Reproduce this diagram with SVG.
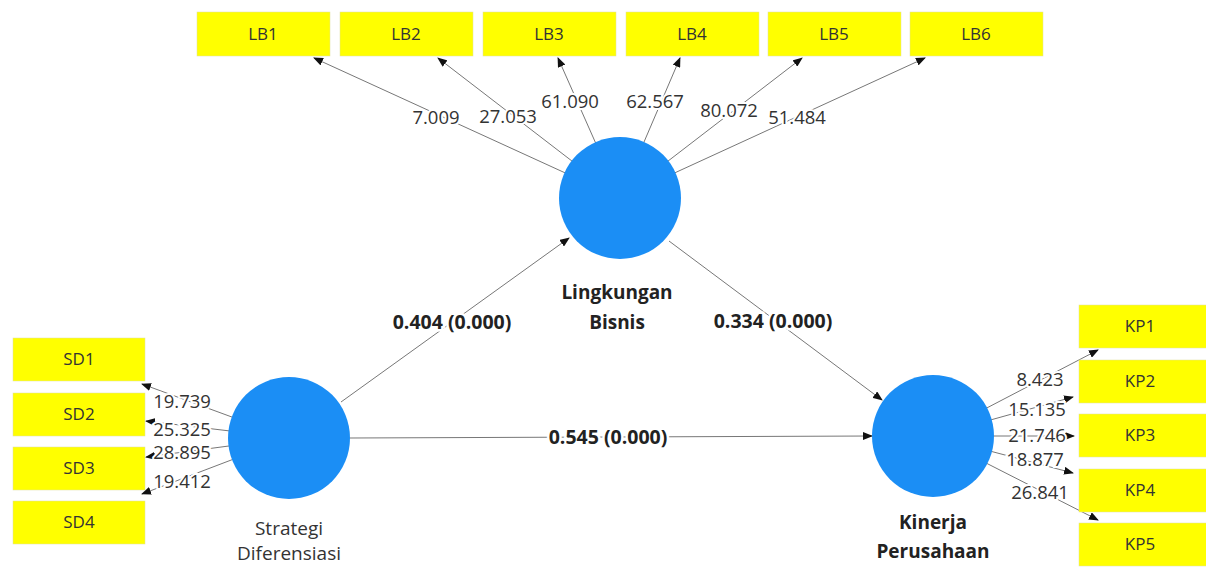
<svg xmlns="http://www.w3.org/2000/svg" width="1206" height="567" viewBox="0 0 1206 567">
<style>
.box{fill:#ffff00;stroke:#e0e0a0;stroke-width:0.5}
.bt{font-family:"Open Sans","Noto Sans",sans-serif;font-size:17px;fill:#333;text-anchor:middle}
.lv{fill:#1b8ef5}
.ln{stroke:#777;stroke-width:1;fill:none;marker-end:url(#ah)}
.num{font-family:"Open Sans","Noto Sans",sans-serif;font-size:18.5px;fill:#333;text-anchor:middle;stroke:#fff;stroke-width:4;paint-order:stroke}
.pc{font-family:"Open Sans","Noto Sans",sans-serif;font-size:19.5px;font-weight:bold;fill:#222;text-anchor:middle;stroke:#fff;stroke-width:5;paint-order:stroke}
.lvl{font-family:"Open Sans","Noto Sans",sans-serif;font-size:19px;fill:#333;text-anchor:middle}
.b{font-weight:bold;fill:#222}
</style>
<defs>
<marker id="ah" markerUnits="userSpaceOnUse" markerWidth="10" markerHeight="8" refX="9" refY="4" orient="auto">
<path d="M0,0 L10,4 L0,8 z" fill="#111"/>
</marker>
</defs>
<rect width="1206" height="567" fill="#fff"/>
<g id="connectors">
<line class="ln" x1="620" y1="198" x2="314" y2="58"/>
<line class="ln" x1="620" y1="198" x2="438" y2="58"/>
<line class="ln" x1="620" y1="198" x2="558" y2="58"/>
<line class="ln" x1="620" y1="198" x2="680" y2="58"/>
<line class="ln" x1="620" y1="198" x2="802" y2="58"/>
<line class="ln" x1="620" y1="198" x2="925" y2="58"/>
<line class="ln" x1="289" y1="438" x2="142" y2="384"/>
<line class="ln" x1="289" y1="438" x2="146" y2="421"/>
<line class="ln" x1="289" y1="438" x2="146" y2="457"/>
<line class="ln" x1="289" y1="438" x2="142" y2="494"/>
<line class="ln" x1="933" y1="436" x2="1098" y2="350"/>
<line class="ln" x1="933" y1="436" x2="1073" y2="397"/>
<line class="ln" x1="933" y1="436" x2="1074" y2="436"/>
<line class="ln" x1="933" y1="436" x2="1073" y2="473"/>
<line class="ln" x1="933" y1="436" x2="1098" y2="520"/>
<line class="ln" x1="341" y1="402" x2="569" y2="238"/>
<line class="ln" x1="350" y1="438" x2="872" y2="436"/>
<line class="ln" x1="669" y1="241" x2="882" y2="400"/>
<text class="num" x="436" y="124">7.009</text>
<text class="num" x="508" y="123">27.053</text>
<text class="num" x="570" y="108">61.090</text>
<text class="num" x="655" y="108">62.567</text>
<text class="num" x="729" y="117">80.072</text>
<text class="num" x="797" y="124">51.484</text>
<text class="num" x="182" y="408">19.739</text>
<text class="num" x="182" y="436">25.325</text>
<text class="num" x="182" y="459">28.895</text>
<text class="num" x="182" y="488">19.412</text>
<text class="num" x="1040" y="386">8.423</text>
<text class="num" x="1037" y="416">15.135</text>
<text class="num" x="1037" y="442">21.746</text>
<text class="num" x="1035" y="466">18.877</text>
<text class="num" x="1040" y="499">26.841</text>
<text class="pc" x="452" y="329">0.404 (0.000)</text>
<text class="pc" x="773" y="328">0.334 (0.000)</text>
<text class="pc" x="608" y="444">0.545 (0.000)</text>
</g>
<g id="LB1"><rect class="box" x="197" y="12" width="133" height="44"/><text class="bt" x="263" y="40">LB1</text></g>
<g id="LB2"><rect class="box" x="340" y="12" width="133" height="44"/><text class="bt" x="406" y="40">LB2</text></g>
<g id="LB3"><rect class="box" x="483" y="12" width="133" height="44"/><text class="bt" x="549" y="40">LB3</text></g>
<g id="LB4"><rect class="box" x="626" y="12" width="133" height="44"/><text class="bt" x="692" y="40">LB4</text></g>
<g id="LB5"><rect class="box" x="768" y="12" width="133" height="44"/><text class="bt" x="834" y="40">LB5</text></g>
<g id="LB6"><rect class="box" x="910" y="12" width="133" height="44"/><text class="bt" x="976" y="40">LB6</text></g>
<g id="SD1"><rect class="box" x="13" y="338" width="132" height="43"/><text class="bt" x="79" y="365">SD1</text></g>
<g id="SD2"><rect class="box" x="13" y="393" width="132" height="43"/><text class="bt" x="79" y="420">SD2</text></g>
<g id="SD3"><rect class="box" x="13" y="447" width="132" height="43"/><text class="bt" x="79" y="474">SD3</text></g>
<g id="SD4"><rect class="box" x="13" y="501" width="132" height="43"/><text class="bt" x="79" y="528">SD4</text></g>
<g id="KP1"><rect class="box" x="1079" y="305" width="133" height="43"/><text class="bt" x="1140" y="332">KP1</text></g>
<g id="KP2"><rect class="box" x="1079" y="360" width="133" height="43"/><text class="bt" x="1140" y="387">KP2</text></g>
<g id="KP3"><rect class="box" x="1079" y="414" width="133" height="43"/><text class="bt" x="1140" y="441">KP3</text></g>
<g id="KP4"><rect class="box" x="1079" y="469" width="133" height="43"/><text class="bt" x="1140" y="496">KP4</text></g>
<g id="KP5"><rect class="box" x="1079" y="523" width="133" height="43"/><text class="bt" x="1140" y="550">KP5</text></g>
<g id="LingkunganBisnis"><circle class="lv" cx="620" cy="198" r="61"/><text class="lvl b" x="617" y="299">Lingkungan</text><text class="lvl b" x="617" y="329">Bisnis</text></g>
<g id="StrategiDiferensiasi"><circle class="lv" cx="289" cy="438" r="61"/><text class="lvl" x="289" y="535">Strategi</text><text class="lvl" x="289" y="560">Diferensiasi</text></g>
<g id="KinerjaPerusahaan"><circle class="lv" cx="933" cy="436" r="61"/><text class="lvl b" x="933" y="529">Kinerja</text><text class="lvl b" x="933" y="558">Perusahaan</text></g>
</svg>
